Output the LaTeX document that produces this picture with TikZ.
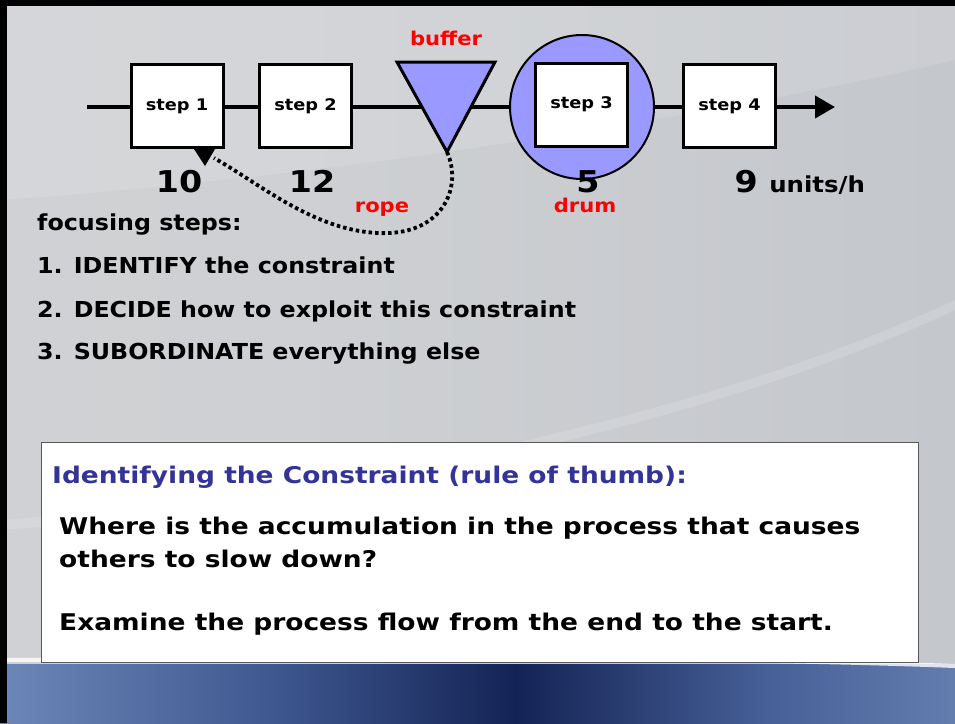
\documentclass[tikz,border=0pt]{standalone}
\usepackage{fontspec}
\setmainfont{DejaVu Sans}[FakeStretch=1.11]
\newfontfamily\widefont{DejaVu Sans}[FakeStretch=1.15]
\newfontfamily\listfont{DejaVu Sans}[FakeStretch=1.08]
\usetikzlibrary{arrows.meta}
\definecolor{bufblue}{RGB}{153,153,255}
\definecolor{hdrblue}{RGB}{51,51,153}
\definecolor{lblred}{RGB}{255,0,0}
\definecolor{bA}{RGB}{150,170,205}
\definecolor{bB}{RGB}{110,135,185}
\definecolor{bC}{RGB}{60,85,140}
\definecolor{bD}{RGB}{20,35,85}
\definecolor{bE}{RGB}{70,95,150}
\definecolor{bF}{RGB}{130,155,200}
\definecolor{bG}{RGB}{100,125,175}
\definecolor{gA}{RGB}{210,211,213}
\definecolor{gB}{RGB}{206,208,211}
\definecolor{gC}{RGB}{196,199,204}
\definecolor{gD}{RGB}{170,174,180}
\definecolor{gE}{RGB}{95,98,103}
\definecolor{gF}{RGB}{110,113,118}
\pgfdeclarehorizontalshading{graybg}{100bp}{color(0bp)=(gA); color(40bp)=(gB); color(75bp)=(gC); color(91bp)=(gD); color(97bp)=(gE); color(100bp)=(gF)}
\pgfdeclarehorizontalshading{bluebar}{100bp}{color(0bp)=(gE); color(4bp)=(bA); color(25bp)=(bB); color(40bp)=(bC); color(52bp)=(bD); color(65bp)=(bE); color(85bp)=(bF); color(100bp)=(bG)}
\tikzset{
  stepbox/.style={draw=black, line width=3pt, fill=white, minimum width=92pt, minimum height=83pt, inner sep=0pt, font=\bfseries\fontsize{16}{18}\selectfont},
  flow/.style={line width=4pt, draw=black},
  rate/.style={anchor=base, font=\bfseries\fontsize{30}{32}\selectfont},
  redlbl/.style={anchor=base, text=lblred, font=\bfseries\fontsize{19}{21}\selectfont},
  listtxt/.style={anchor=base west, inner sep=0pt, font=\listfont\bfseries\fontsize{22}{24}\selectfont},
  boxtxt/.style={anchor=base west, inner sep=0pt, font=\widefont\bfseries\fontsize{23}{25}\selectfont},
}
\begin{document}
\begin{tikzpicture}[x=1pt,y=-1pt]
\useasboundingbox (0,0) rectangle (955,723);
% background
\shade[shading=graybg] (0,0) rectangle (955,723);
\fill[white, opacity=0.12] (0,200) .. controls (300,180) and (700,120) .. (955,60) -- (955,0) -- (0,0) -- cycle;
\fill[white, opacity=0.15] (0,520) .. controls (300,500) and (700,420) .. (955,300) -- (955,310) .. controls (700,430) and (300,510) .. (0,530) -- cycle;
\shade[shading=bluebar] (0,664) rectangle (955,723);
\fill[white, opacity=0.8] (0,662) .. controls (300,660) and (700,658) .. (955,668) -- (955,664) .. controls (700,654) and (300,656) .. (0,658) -- cycle;
\fill[black] (0,0) rectangle (955,6);
\fill[black] (0,0) rectangle (7,723);
% flow nodes
\coordinate (in) at (87,107);
\coordinate (out) at (835,107);
\node[stepbox] (s1) at (177,106) {step 1};
\node[stepbox] (s2) at (305.5,106) {step 2};
\node[circle, draw=black, line width=2pt, fill=bufblue, minimum size=144pt, inner sep=0pt] (drum) at (582,107) {};
\node[stepbox] (s3) at (581.5,104.5) {step 3};
\node[stepbox] (s4) at (729.5,106) {step 4};
\coordinate (bufNW) at (397,62);
\coordinate (bufNE) at (495,62);
\coordinate (bufS) at (447,152);
% connectors
\draw[flow] (in) -- (s1.west |- in);
\draw[flow] (s1.east |- in) -- (s2.west |- in);
\draw[flow] (s2.east |- in) -- (drum.west |- in);
\draw[flow] (drum.east |- in) -- (s4.west |- in);
\draw[flow, -{Triangle[length=20pt,width=22pt]}] (s4.east |- in) -- (out);
% buffer triangle
\filldraw[fill=bufblue, draw=black, line width=3pt, line join=miter] (bufNW) -- (bufNE) -- (bufS) -- cycle;
% rope
\coordinate (ropeEnd) at (214,158);
\draw[line width=3.8pt, dash pattern=on 3.5pt off 3pt] (bufS) .. controls (462,185) and (445,230) .. (390,233) .. controls (320,236) and (262,185) .. (ropeEnd);
\fill[black] (194,149) -- (215,149) -- (205,166) -- cycle;
% labels
\node[rate] (r1) at (179,192) {10};
\node[rate] (r2) at (312,192) {12};
\node[rate] (r3) at (588,192) {5};
\node[rate, anchor=base west] (r4) at (731,192) {9 {\fontsize{22}{24}\selectfont units/h}};
\node[redlbl] (lbuf) at (446,45) {buffer};
\node[redlbl] (lrope) at (382,212) {rope};
\node[redlbl] (ldrum) at (585,212) {drum};
% focusing steps
\node[listtxt] (f0) at (37,230) {focusing steps:};
\node[listtxt] (f1) at (37,273) {1. IDENTIFY the constraint};
\node[listtxt] (f2) at (37,317) {2. DECIDE how to exploit this constraint};
\node[listtxt] (f3) at (37,359) {3. SUBORDINATE everything else};
% rule box
\node[draw=black!65, line width=1.2pt, fill=white, minimum width=877pt, minimum height=220pt, anchor=north west, inner sep=0pt] (rule) at (41,442) {};
\node[boxtxt, text=hdrblue] (h) at (52,483) {Identifying the Constraint (rule of thumb):};
\node[boxtxt] (w1) at (59,534) {Where is the accumulation in the process that causes};
\node[boxtxt] (w2) at (59,567) {others to slow down?};
\node[boxtxt] (w3) at (59,630) {Examine the process flow from the end to the start.};
\end{tikzpicture}
\end{document}
